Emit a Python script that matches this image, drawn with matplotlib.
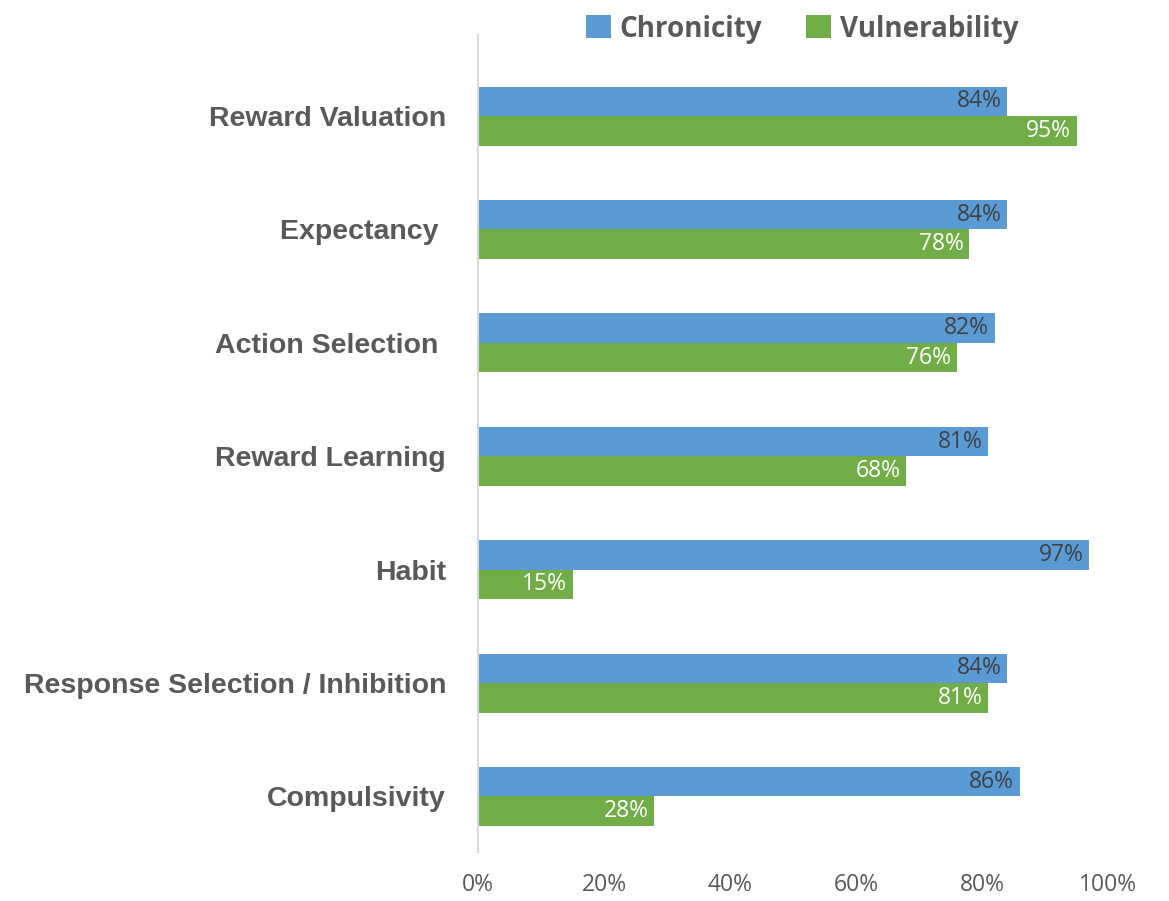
import matplotlib
matplotlib.use("Agg")
import matplotlib.pyplot as plt
from matplotlib import font_manager
import numpy as np

categories = ["Reward Valuation", "Expectancy ", "Action Selection ", "Reward Learning",
              "Habit", "Response Selection / Inhibition", "Compulsivity"]
chronicity = [84, 84, 82, 81, 97, 84, 86]
vulnerability = [95, 78, 76, 68, 15, 81, 28]
xticks = [0, 20, 40, 60, 80, 100]
xtick_labels = ["0%", "20%", "40%", "60%", "80%", "100%"]

blue = "#5B9BD5"
green = "#70AD47"
grey = "#595959"

avail = {f.name for f in font_manager.fontManager.ttflist}
cat_font = "Liberation Sans Narrow" if "Liberation Sans Narrow" in avail else "Liberation Sans"
num_font = "Open Sans"

fig = plt.figure(figsize=(11.69, 9.01), dpi=100)
ax = fig.add_axes([478/1169, 1-852/901, (1108-478)/1169, (852-35)/901])

y = np.arange(len(categories))
h = 0.26
b1 = ax.barh(y - h/2, chronicity, height=h, color=blue, label="Chronicity")
b2 = ax.barh(y + h/2, vulnerability, height=h, color=green, label="Vulnerability")

ax.set_xlim(0, 100)
ax.set_ylim(len(categories) - 1 + 0.49, -0.715)

for bar, v in zip(b1, chronicity):
    ax.annotate(f"{v}%", (bar.get_width(), bar.get_y() + bar.get_height()/2),
                xytext=(-4, 0), textcoords="offset points", ha="right", va="center",
                fontsize=16.5, color="#404040", family=num_font)
for bar, v in zip(b2, vulnerability):
    ax.annotate(f"{v}%", (bar.get_width(), bar.get_y() + bar.get_height()/2),
                xytext=(-4, 0), textcoords="offset points", ha="right", va="center",
                fontsize=16.5, color="white", family=num_font)

ax.set_yticks(y)
ax.set_yticklabels(categories, fontsize=20.5, fontweight="bold", color=grey, family=cat_font)
ax.set_xticks(xticks)
ax.set_xticklabels(xtick_labels, fontsize=16.5, color=grey, family=num_font)
ax.tick_params(axis="both", length=0)
ax.tick_params(axis="y", pad=23)
ax.tick_params(axis="x", pad=15)

for s in ["top", "right", "bottom"]:
    ax.spines[s].set_visible(False)
ax.spines["left"].set_color("#D9D9D9")
ax.spines["left"].set_linewidth(1.5)

leg = fig.legend(handles=[b1, b2], loc="center", bbox_to_anchor=(802/1169, 1-29/901),
                 ncol=2, frameon=False, handlelength=0.9, handleheight=0.9,
                 handletextpad=0.3, columnspacing=1.6,
                 prop={"family": num_font, "weight": "bold", "size": 20})
for t in leg.get_texts():
    t.set_color(grey)

fig.savefig("out.png", dpi=100)
